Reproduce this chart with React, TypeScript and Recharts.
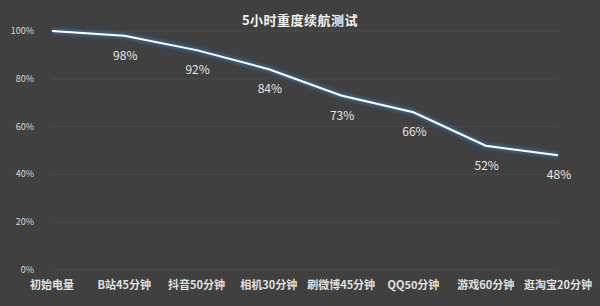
import { LineChart, Line, XAxis, YAxis, CartesianGrid, LabelList } from 'recharts'

const categories = ['初始电量', 'B站45分钟', '抖音50分钟', '相机30分钟', '刷微博45分钟', 'QQ50分钟', '游戏60分钟', '逛淘宝20分钟']
const battery = [100, 98, 92, 84, 73, 66, 52, 48]
const yTicks = [0, 20, 40, 60, 80, 100]

const data = categories.map((name, i) => ({ name, battery: battery[i] }))

const font = '"Noto Sans CJK SC", "Noto Sans", sans-serif'

function YTick(props: any) {
  const { x, y, payload } = props
  return (
    <text x={x - 10} y={y} dy={3} textAnchor="end" fill="#d8d8d8" fontSize={9} fontFamily={font}>
      {payload.value}%
    </text>
  )
}

function XTick(props: any) {
  const { x, y, payload } = props
  return (
    <text x={x} y={y} dy={11} textAnchor="middle" fill="#e0e0e0" fontSize={11} fontWeight={600} fontFamily={font}>
      {payload.value}
    </text>
  )
}

function PointLabel(props: any) {
  const { x, y, value, index } = props
  if (index === 0) return null
  return (
    <text x={x + 1} y={y + 24} textAnchor="middle" fill="#e6e6e6" fontSize={12} fontFamily={font}>
      {value}%
    </text>
  )
}

export default function App() {
  return (
    <div style={{ width: 600, height: 306, background: '#404040', position: 'relative', fontFamily: font }}>
      <style>{'body{margin:0}'}</style>
      <div style={{
        position: 'absolute', top: 10, left: 0, width: 600, textAlign: 'center',
        color: '#f2f2f2', fontSize: 13, fontWeight: 700, letterSpacing: 0.5,
      }}>
        5小时重度续航测试
      </div>
      <LineChart width={600} height={306} data={data} margin={{ top: 31, right: 42, left: 0, bottom: 6 }}>
        <defs>
          <filter id="glow" x="-10%" y="-50%" width="120%" height="200%">
            <feGaussianBlur stdDeviation="1.5" />
          </filter>
        </defs>
        <CartesianGrid vertical={false} stroke="#4a4a4a" strokeWidth={1} />
        <XAxis
          dataKey="name"
          axisLine={false}
          tickLine={false}
          height={30}
          interval={0}
          tick={<XTick />}
        />
        <YAxis
          domain={[0, 100]}
          ticks={yTicks}
          width={52}
          axisLine={false}
          tickLine={false}
          tick={<YTick />}
        />
        <Line
          type="linear"
          dataKey="battery"
          stroke="#3a6690"
          strokeWidth={6}
          strokeOpacity={0.85}
          dot={false}
          activeDot={false}
          filter="url(#glow)"
          isAnimationActive={false}
        />
        <Line
          type="linear"
          dataKey="battery"
          stroke="#ffffff"
          strokeWidth={2}
          dot={false}
          activeDot={false}
          isAnimationActive={false}
        >
          <LabelList dataKey="battery" content={<PointLabel />} />
        </Line>
      </LineChart>
    </div>
  )
}
